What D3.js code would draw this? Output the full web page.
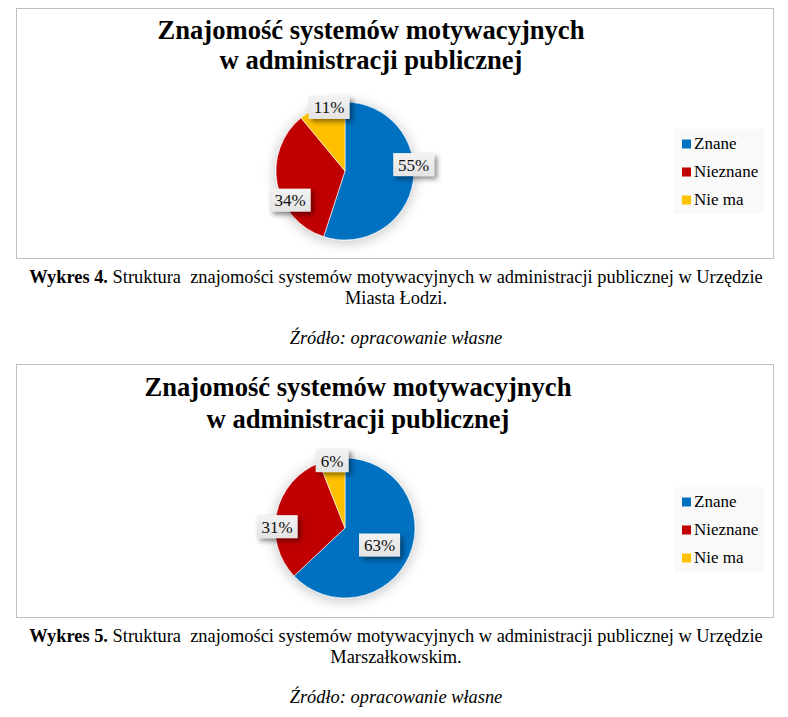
<!DOCTYPE html>
<html>
<head>
<meta charset="utf-8">
<script src="https://cdn.jsdelivr.net/npm/d3@7"></script>
<style>
  body { margin: 0; background: #fff; }
  text { white-space: pre; font-family: 'Liberation Serif', 'Times New Roman', Times, serif; }
</style>
</head>
<body>
<div id="chart"></div>
<script>
// data
var categories = ["Znane", "Nieznane", "Nie ma"];
var colors = ["#0070C0", "#C00000", "#FFC000"];
var valuesLodz = [55, 34, 11];
var valuesMarsz = [63, 31, 6];
var titleLines = ["Znajomość systemów motywacyjnych", "w administracji publicznej"];
var captionBold = ["Wykres 4.", "Wykres 5."];
var captionRest = " Struktura  znajomości systemów motywacyjnych w administracji publicznej w Urzędzie";
var captionLine2 = ["Miasta Łodzi.", "Marszałkowskim."];
var sourceText = "Źródło: opracowanie własne";

var width = 788, height = 717;

var svg = d3.select("#chart")
  .append("svg")
    .attr("width", width)
    .attr("height", height);

var defs = svg.append("defs");

// soft glow under the pie
var f1 = defs.append("filter").attr("id", "pieShadow")
  .attr("x", "-40%").attr("y", "-40%").attr("width", "180%").attr("height", "180%");
f1.append("feGaussianBlur").attr("in", "SourceAlpha").attr("stdDeviation", 7).attr("result", "b");
f1.append("feOffset").attr("in", "b").attr("dx", 0).attr("dy", 2).attr("result", "o");
f1.append("feComponentTransfer").attr("in", "o").attr("result", "c")
  .append("feFuncA").attr("type", "linear").attr("slope", 0.25);
var m1 = f1.append("feMerge");
m1.append("feMergeNode").attr("in", "c");
m1.append("feMergeNode").attr("in", "SourceGraphic");

// shadow for the data labels
var f2 = defs.append("filter").attr("id", "lblShadow")
  .attr("x", "-30%").attr("y", "-30%").attr("width", "170%").attr("height", "170%");
f2.append("feGaussianBlur").attr("in", "SourceAlpha").attr("stdDeviation", 2.5).attr("result", "b");
f2.append("feOffset").attr("in", "b").attr("dx", 3).attr("dy", 3).attr("result", "o");
f2.append("feComponentTransfer").attr("in", "o").attr("result", "c")
  .append("feFuncA").attr("type", "linear").attr("slope", 0.45);
var m2 = f2.append("feMerge");
m2.append("feMergeNode").attr("in", "c");
m2.append("feMergeNode").attr("in", "SourceGraphic");

var grad = defs.append("linearGradient").attr("id", "lblGrad")
  .attr("x1", 0).attr("y1", 0).attr("x2", 0).attr("y2", 1);
grad.append("stop").attr("offset", "0%").attr("stop-color", "#f2f2f2");
grad.append("stop").attr("offset", "100%").attr("stop-color", "#e4e4e4");

var charts = [
  { values: valuesLodz, top: 8, bottom: 258, cx: 345, cy: 171, r: 69,
    titleX: 371, titleY: [39, 69], legendY: 129, labelR: [1.0, 0.9, 0.95],
    labelShift: [-0.25, -0.3, 0.1], capY: 277 },
  { values: valuesMarsz, top: 364, bottom: 617, cx: 345, cy: 528, r: 70,
    titleX: 358, titleY: [396, 428], legendY: 487, labelR: [0.55, 0.97, 0.98],
    labelShift: [0.05, -0.2, 0.0], capY: 636 }
];

var pie = d3.pie().sort(null).value(function(d) { return d; });

charts.forEach(function(c, ci) {
  var g = svg.append("g");

  // chart frame
  g.append("rect")
    .attr("x", 16.5).attr("y", c.top + 0.5)
    .attr("width", 757).attr("height", c.bottom - c.top)
    .attr("fill", "#fff").attr("stroke", "#bfbfbf").attr("stroke-width", 1);

  // title
  g.selectAll(".title")
    .data(titleLines)
    .enter()
    .append("text")
      .attr("x", c.titleX)
      .attr("y", function(d, i) { return c.titleY[i]; })
      .attr("text-anchor", "middle")
      .style("font-weight", "bold")
      .style("font-size", "26.6px")
      .text(function(d) { return d; });

  // pie
  var arcs = pie(c.values);
  var arc = d3.arc().innerRadius(0).outerRadius(c.r);
  var pg = g.append("g").attr("transform", "translate(" + c.cx + "," + c.cy + ")");

  pg.append("g").attr("filter", "url(#pieShadow)")
    .selectAll("path")
    .data(arcs)
    .enter()
    .append("path")
      .attr("d", arc)
      .attr("fill", function(d, i) { return colors[i]; })
      .attr("stroke", "#fff")
      .attr("stroke-width", 0.6);

  // data labels, placed along each slice's mid angle
  var lab = pg.selectAll(".lbl")
    .data(arcs)
    .enter()
    .append("g")
      .attr("transform", function(d, i) {
        var a = (d.startAngle + d.endAngle) / 2 + c.labelShift[i];
        var rr = c.r * c.labelR[i];
        return "translate(" + (Math.sin(a) * rr) + "," + (-Math.cos(a) * rr) + ")";
      });

  lab.each(function(d) {
    var s = d3.select(this);
    var w = d.data >= 10 ? 41 : 33;
    s.append("rect")
      .attr("x", -w / 2).attr("y", -11.5)
      .attr("width", w).attr("height", 23)
      .attr("fill", "url(#lblGrad)")
      .attr("filter", "url(#lblShadow)");
    s.append("text")
      .attr("y", 6)
      .attr("text-anchor", "middle")
      .style("font-size", "17px")
      .style("fill", "#111")
      .text(d.data + "%");
  });

  // legend
  var lg = g.append("g").attr("transform", "translate(674," + c.legendY + ")");
  lg.append("rect").attr("width", 90).attr("height", 85).attr("fill", "#f9f9f9");
  var item = lg.selectAll(".item")
    .data(categories)
    .enter()
    .append("g")
      .attr("transform", function(d, i) { return "translate(8," + (15 + i * 28) + ")"; });
  item.append("rect")
    .attr("x", 0).attr("y", -4.5).attr("width", 9).attr("height", 9)
    .attr("fill", function(d, i) { return colors[i]; });
  item.append("text")
    .attr("x", 12).attr("y", 5)
    .style("font-size", "17px")
    .text(function(d) { return d; });

  // caption under the chart
  var cap = svg.append("text")
    .attr("x", 396).attr("y", c.capY + 6)
    .attr("text-anchor", "middle")
    .style("font-size", "18.4px");
  cap.append("tspan").style("font-weight", "bold").text(captionBold[ci]);
  cap.append("tspan").text(captionRest);

  svg.append("text")
    .attr("x", 396).attr("y", c.capY + 27)
    .attr("text-anchor", "middle")
    .style("font-size", "18.4px")
    .text(captionLine2[ci]);

  svg.append("text")
    .attr("x", 396).attr("y", c.capY + 67)
    .attr("text-anchor", "middle")
    .style("font-style", "italic")
    .style("font-size", "18.4px")
    .text(sourceText);
});
</script>
</body>
</html>
